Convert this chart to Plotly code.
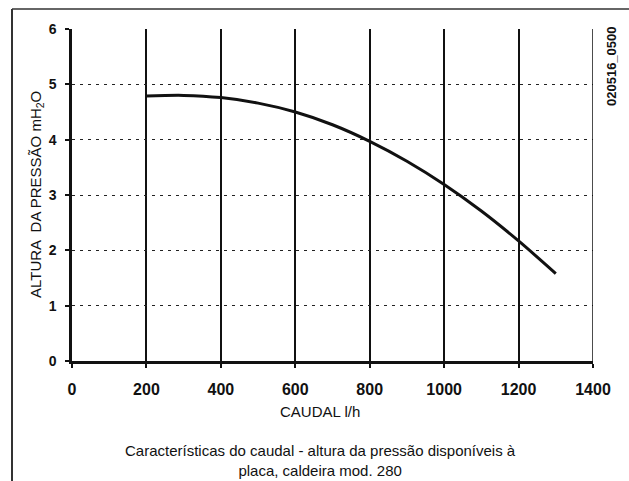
import plotly.graph_objects as go

# caudal (l/h) vs altura da pressão (mH2O)
caudal = [200, 300, 400, 500, 600, 700, 800, 900, 1000, 1100, 1200, 1300]
altura = [4.79, 4.80, 4.76, 4.66, 4.50, 4.27, 3.97, 3.61, 3.19, 2.71, 2.17, 1.58]

x_ticks = [0, 200, 400, 600, 800, 1000, 1200, 1400]
y_ticks = [0, 1, 2, 3, 4, 5, 6]

W, H = 629, 481
L, R, T, B = 72, 36, 29, 120
pw, ph = W - L - R, H - T - B


def px(x):
    return (x - L) / pw


def py(y):
    return (H - B - y) / ph


font = "Liberation Sans, Arial, sans-serif"

fig = go.Figure()
fig.add_trace(go.Scatter(
    x=caudal, y=altura,
    mode='lines',
    line=dict(color='#111111', width=3, shape='spline', smoothing=0.8),
    showlegend=False,
    hoverinfo='skip'
))

fig.update_layout(
    width=W, height=H,
    margin=dict(l=L, r=R, t=T, b=B),
    paper_bgcolor='white',
    plot_bgcolor='white',
    font=dict(family=font, color='#111111'),
    xaxis=dict(
        range=[0, 1400], tickvals=x_ticks, ticks='outside', ticklen=4,
        tickwidth=2, tickcolor='#111111', ticklabelstandoff=8,
        tickfont=dict(size=16, family=font, weight='bold'),
        showgrid=True, gridcolor='#111111', gridwidth=1.5,
        showline=True, linecolor='#111111', linewidth=2.5,
        zeroline=False, fixedrange=True
    ),
    yaxis=dict(
        range=[0, 6], tickvals=y_ticks, ticks='outside', ticklen=4,
        tickwidth=2, tickcolor='#111111', ticklabelstandoff=6,
        tickfont=dict(size=14, family=font, weight='bold'),
        showgrid=True, gridcolor='#222222', gridwidth=1.3, griddash='3px,5px',
        showline=True, linecolor='#111111', linewidth=2.5,
        zeroline=False, fixedrange=True
    ),
    shapes=[
        # right border of plot at 1400
        dict(type='line', xref='x', yref='paper', x0=1400, x1=1400, y0=0, y1=1,
             line=dict(color='#111111', width=1.5)),
        # outer frame: top and left
        dict(type='line', xref='paper', yref='paper', x0=px(12), x1=px(629),
             y0=py(9), y1=py(9), line=dict(color='#333333', width=1.5)),
        dict(type='line', xref='paper', yref='paper', x0=px(12), x1=px(12),
             y0=py(9), y1=py(481), line=dict(color='#333333', width=2)),
    ],
    annotations=[
        dict(text='ALTURA  DA PRESSÃO mH<sub>2</sub>O', xref='paper', yref='paper',
             x=px(36), y=py(195), textangle=-90, showarrow=False,
             font=dict(size=15, family=font), xanchor='center', yanchor='middle'),
        dict(text='CAUDAL l/h', xref='paper', yref='paper',
             x=px(320), y=py(412), showarrow=False,
             font=dict(size=15, family=font), xanchor='center', yanchor='middle'),
        dict(text='Características do caudal - altura da pressão disponíveis à<br>placa, caldeira mod. 280',
             xref='paper', yref='paper', x=px(320), y=py(460), showarrow=False,
             font=dict(size=15, family=font), xanchor='center', yanchor='middle'),
        dict(text='020516_0500', xref='paper', yref='paper',
             x=px(611), y=py(66), textangle=-90, showarrow=False,
             font=dict(size=13, family=font, weight='bold'),
             xanchor='center', yanchor='middle'),
    ]
)

fig.write_html("out.html", config={'displayModeBar': False},
               post_script="document.body.style.margin='0';")
